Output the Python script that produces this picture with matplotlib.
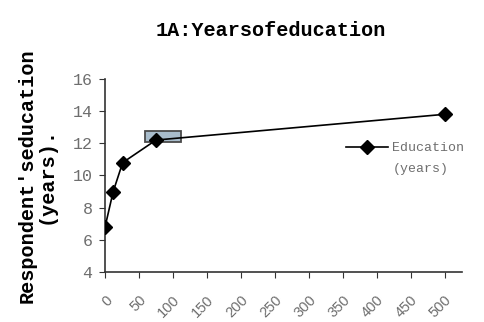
import matplotlib
matplotlib.use('Agg')
import matplotlib.pyplot as plt
from matplotlib.patches import Rectangle

# data
distance = [0, 12, 26, 75, 500]
education = [6.8, 9.0, 10.8, 12.2, 13.8]
x_ticks = [0, 50, 100, 150, 200, 250, 300, 350, 400, 450, 500]
y_ticks = [4, 6, 8, 10, 12, 14, 16]
box_x = [59, 112]
box_y = [12.1, 12.75]

mono = 'Liberation Mono'
gray = '#6e6e6e'

fig = plt.figure(figsize=(4.84, 3.22), dpi=100)
ax = fig.add_axes([0.217, 0.155, 0.738, 0.6])

ax.add_patch(Rectangle((box_x[0], box_y[0]), box_x[1] - box_x[0], box_y[1] - box_y[0],
                       facecolor='#a8bccb', edgecolor='#4a4a4a', lw=1.3, zorder=1))
ax.plot(distance, education, color='black', lw=1.2, marker='D', ms=7,
        label='Education', zorder=3)

ax.set_xlim(0, 526)
ax.set_ylim(4, 16)
ax.set_xticks(x_ticks)
ax.set_yticks(y_ticks)
ax.set_xticklabels([str(t) for t in x_ticks], rotation=45, ha='right',
                   rotation_mode='anchor', fontsize=10.5, color=gray,
                   family='Liberation Sans')
ax.set_yticklabels([str(t) for t in y_ticks], fontsize=12, color=gray,
                   family=mono)
ax.tick_params(axis='x', direction='out', length=4, pad=11, color='#333333')
ax.tick_params(axis='y', direction='out', length=4, pad=5, color='#333333')
ax.spines['top'].set_visible(False)
ax.spines['right'].set_visible(False)
for s in ['left', 'bottom']:
    ax.spines[s].set_color('#333333')
    ax.spines[s].set_linewidth(1.2)

ax.set_title('1A:Yearsofeducation', family=mono, fontweight='bold',
             fontsize=14.5, pad=31, x=0.465)
ax.set_ylabel("Respondent'seducation\n(years).", family=mono, fontweight='bold',
              fontsize=14.5, labelpad=12, linespacing=1.0)

leg = ax.legend(loc='upper left', bbox_to_anchor=(0.64, 0.735), frameon=False,
                prop={'family': mono, 'size': 9.5}, handlelength=3.2,
                handletextpad=0.3, labelcolor=gray)
ax.text(0.805, 0.52, '(years)', transform=ax.transAxes, family=mono,
        fontsize=9.5, color=gray)

fig.savefig('out.png', dpi=100)
